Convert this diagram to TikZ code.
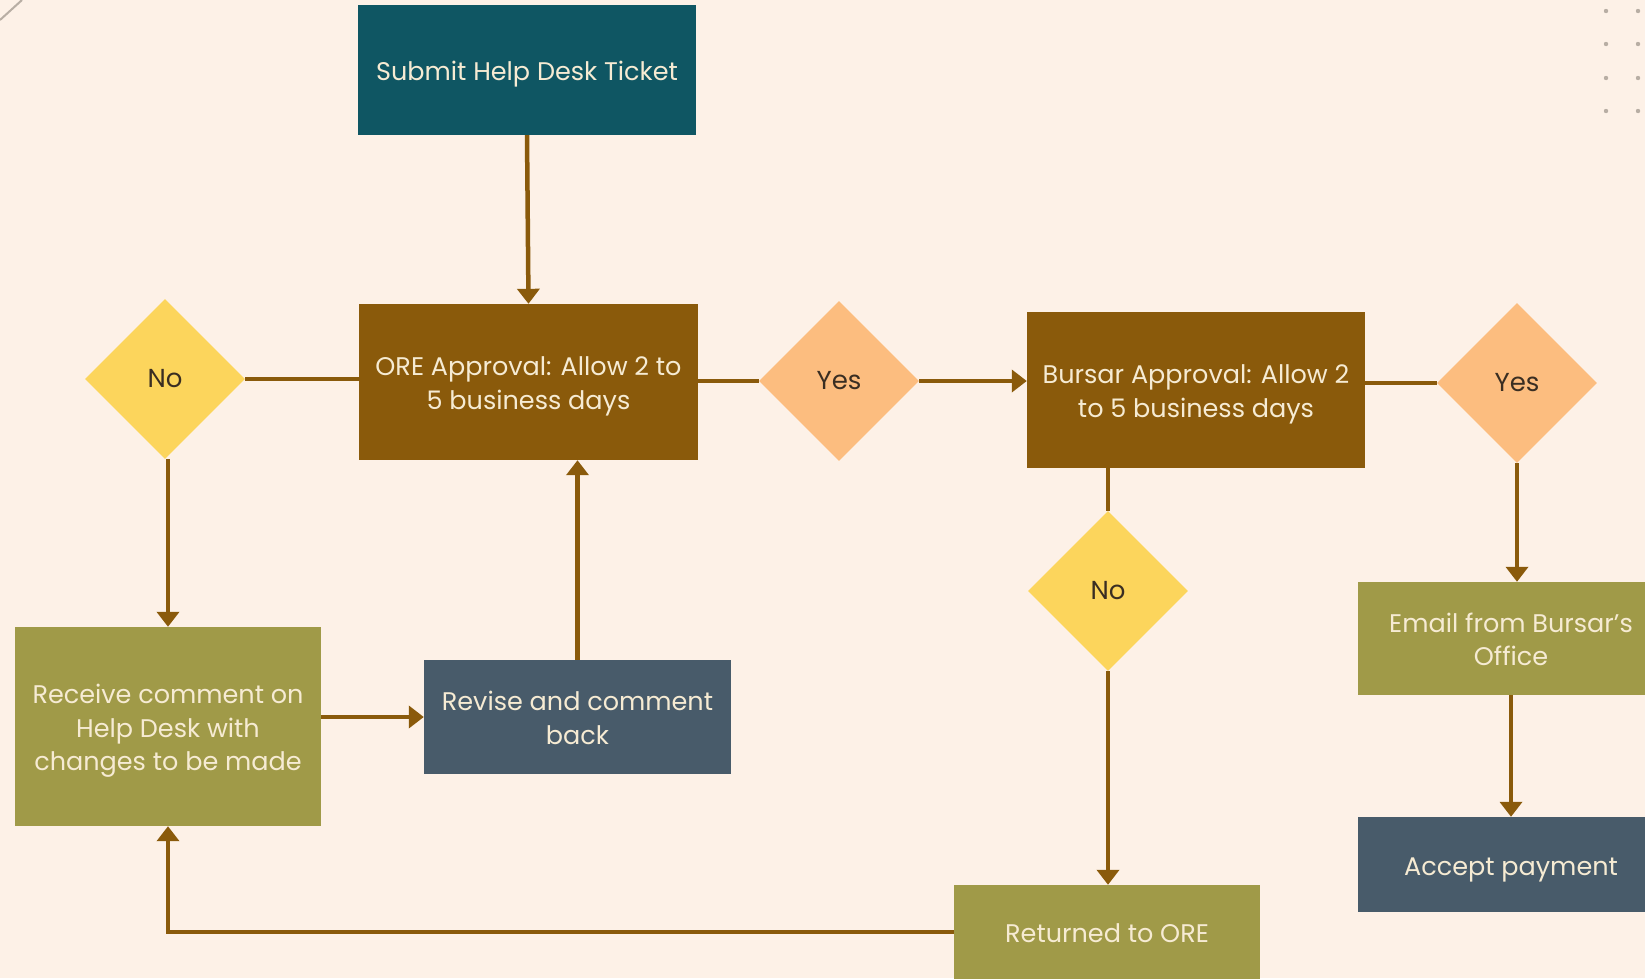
\documentclass[tikz,border=0pt]{standalone}
\usepackage{fontspec}
\setmainfont{Poppins}
\usetikzlibrary{arrows.meta,shapes.geometric}
\definecolor{bg}{HTML}{FDF1E7}
\definecolor{teal}{HTML}{0F5663}
\definecolor{brn}{HTML}{8A5A0B}
\definecolor{ylw}{HTML}{FCD55C}
\definecolor{org}{HTML}{FCBD7F}
\definecolor{olv}{HTML}{A09A48}
\definecolor{slt}{HTML}{485B6A}
\definecolor{cream}{HTML}{F6EBD3}
\definecolor{dtext}{HTML}{3A2E22}
\definecolor{dotc}{HTML}{B8AEA4}
\newcommand\bxtext[1]{\raisebox{-4pt}[\height][\depth]{\begin{tabular}{@{}c@{}}#1\end{tabular}}}
\tikzset{
  box/.style={rectangle, inner sep=0pt, text=cream,
    font=\fontsize{25.5}{33.5}\selectfont},
  dia/.style={diamond, aspect=1, inner sep=0pt, minimum width=160pt, minimum height=160pt,
    text=dtext, font=\fontsize{26}{33}\selectfont},
  conn/.style={draw=brn, line width=4.5pt},
  arr/.style={conn, -{Triangle[width=22pt,length=15pt]}}
}
\begin{document}
\begin{tikzpicture}[x=1pt,y=-1pt]
\useasboundingbox (0,0) rectangle (1645,978);
\clip (0,0) rectangle (1645,978);
\fill[bg] (0,0) rectangle (1645,978);
\draw[dotc, line width=2pt] (0,20) -- (22,0);
\foreach \yy in {11,44,78,111}{
  \fill[dotc] (1606,\yy) circle (2.2);
  \fill[dotc] (1638,\yy) circle (2.2);
}
% boxes
\node[box, fill=teal, minimum width=338pt, minimum height=130pt] (submit) at (527,70) {\bxtext{Submit Help Desk Ticket}};
\node[box, fill=brn, minimum width=339pt, minimum height=156pt] (ore) at (528.5,382) {\bxtext{ORE Approval: Allow 2 to\\5 business days}};
\node[box, fill=brn, minimum width=338pt, minimum height=156pt] (bursar) at (1196,390) {\bxtext{Bursar Approval: Allow 2\\to 5 business days}};
\node[box, fill=olv, minimum width=306pt, minimum height=113pt] (email) at (1511,638.5) {\bxtext{Email from Bursar's\\Office}};
\node[box, fill=slt, minimum width=306pt, minimum height=95pt] (accept) at (1511,864.5) {\bxtext{Accept payment}};
\node[box, fill=olv, minimum width=306pt, minimum height=199pt] (receive) at (168,726.5) {\bxtext{Receive comment on\\Help Desk with\\changes to be made}};
\node[box, fill=slt, minimum width=307pt, minimum height=114pt] (revise) at (577.5,717) {\bxtext{Revise and comment\\back}};
\node[box, fill=olv, minimum width=306pt, minimum height=94pt] (returned) at (1107,932) {\bxtext{Returned to ORE}};
% diamonds
\node[dia, fill=ylw] (no1) at (165,379) {No};
\node[dia, fill=org] (yes1) at (839,381) {Yes};
\node[dia, fill=org] (yes2) at (1517,383) {Yes};
\node[dia, fill=ylw] (no2) at (1108,591) {No};
% connectors
\draw[arr] (submit.south) -- (ore.north);
\draw[conn] (no1.east) -- (no1.east -| ore.west);
\draw[conn] (yes1.west -| ore.east) -- (yes1.west);
\draw[arr] (yes1.east) -- (yes1.east -| bursar.west);
\draw[conn] (yes2.west -| bursar.east) -- (yes2.west);
\draw[arr] (yes2.south) -- (yes2.south |- email.north);
\draw[arr] (email.south) -- (accept.north);
\draw[conn] (no2.north |- bursar.south) -- (no2.north);
\draw[arr] (no2.south) -- (no2.south |- returned.north);
\coordinate (corner) at (receive.south |- returned.west);
\draw[arr] (returned.west) -- (corner) -- (receive.south);
\draw[arr] (receive.north |- no1.south) -- (receive.north);
\draw[arr] (receive.east |- revise.west) -- (revise.west);
\draw[arr] (revise.north) -- (revise.north |- ore.south);
\end{tikzpicture}
\end{document}
